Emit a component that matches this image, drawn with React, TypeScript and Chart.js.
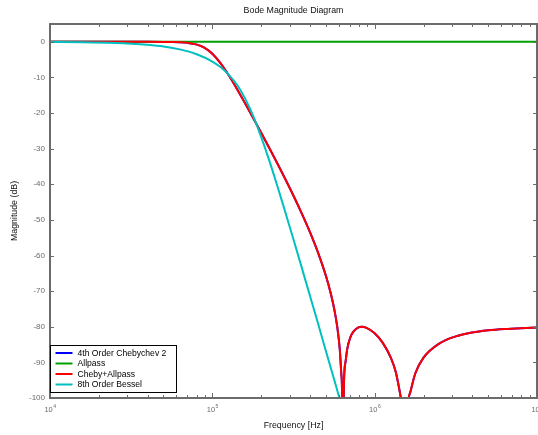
import React, { useEffect, useRef } from "react";
import { Chart, registerables } from "chart.js";

Chart.register(...registerables);

const TITLE = "Bode Magnitude Diagram";
const X_LABEL = "Frequency [Hz]";
const Y_LABEL = "Magnitude (dB)";
const Y_TICKS = [0, -10, -20, -30, -40, -50, -60, -70, -80, -90, -100];
const X_DECADE_EXPONENTS = [4, 5, 6, 7];
const MINOR_MULTIPLIERS = [2, 3, 4, 5, 6, 7, 8, 9];
const SERIES_LABELS = ["4th Order Chebychev 2", "Allpass", "Cheby+Allpass", "8th Order Bessel"];
const SERIES_COLORS = ["#0000ff", "#00a000", "#ff0000", "#00c0c0"];

// Chebyshev type 2 (and Cheby+Allpass, identical magnitude)
const chebFreq = [
  10000, 19953, 31623, 39811, 50119, 56234, 63096, 70795, 79433, 89125,
  100000, 112202, 125893, 141254, 158489, 177828, 199526, 223872, 251189, 281838,
  316228, 354813, 398107, 446684, 501187, 537032, 562341, 588844, 609537, 623735,
  630957, 636400, 645654, 660693, 676083, 707946, 794328, 831764, 891251, 1000000,
  1122018, 1258925, 1348963, 1445440, 1479108, 1537000, 1584893, 1659587, 1778279, 1995262,
  2511886, 3162278, 3981072, 5011872, 6309573, 7943282, 10000000,
];
const chebDb = [
  0, 0, 0, 0, -0.02, -0.05, -0.12, -0.3, -0.72, -1.63,
  -3.34, -5.97, -9.33, -13.11, -17.12, -21.24, -25.44, -29.72, -34.09, -38.57,
  -43.21, -48.09, -53.29, -59.04, -65.76, -70.73, -74.81, -80.19, -86.3, -93.57,
  -101.2, -150, -97.6, -90.0, -86.5, -82.96, -80.16, -80.0, -80.3, -81.83,
  -84.53, -88.76, -92.72, -99.6, -103.8, -150, -106.0, -98.3, -93.13, -88.74,
  -84.65, -82.7, -81.63, -81.0, -80.62, -80.39, -80.24,
];

const allpassFreq = [10000, 10000000];
const allpassDb = [0, 0];

const besselFreq = [
  10000, 15849, 25119, 31623, 39811, 50119, 63096, 79433, 100000, 112202,
  125893, 141254, 158489, 177828, 199526, 223872, 251189, 281838, 316228, 354813,
  398107, 446684, 501187, 562341, 630957,
];
const besselDb = [
  -0.05, -0.13, -0.33, -0.52, -0.83, -1.32, -2.13, -3.42, -5.54, -7.09,
  -9.2, -11.93, -15.75, -20.65, -26.6, -33.2, -40.4, -47.9, -55.5, -63.25,
  -71.1, -78.9, -86.86, -94.76, -102.7,
];

const FONT = "'Liberation Sans', Arial, Helvetica, sans-serif";

function pts(xs: number[], ys: number[]) {
  return xs.map((x, i) => ({ x, y: ys[i] }));
}

const framePlugin = {
  id: "matlabFrame",
  afterDraw(chart: any) {
    const { ctx, chartArea: ca, scales } = chart;
    const xs = scales.x;
    const ys = scales.y;
    const axisColor = "#6b6b6b";
    ctx.save();

    // tick marks
    ctx.strokeStyle = axisColor;
    ctx.lineWidth = 1;
    ctx.beginPath();
    for (let i = 0; i < X_DECADE_EXPONENTS.length; i++) {
      const e = X_DECADE_EXPONENTS[i];
      const major = Math.round(xs.getPixelForValue(Math.pow(10, e))) + 0.5;
      ctx.moveTo(major, ca.top);
      ctx.lineTo(major, ca.top + 5);
      ctx.moveTo(major, ca.bottom);
      ctx.lineTo(major, ca.bottom - 5);
      if (i < X_DECADE_EXPONENTS.length - 1) {
        for (const m of MINOR_MULTIPLIERS) {
          const px = Math.round(xs.getPixelForValue(m * Math.pow(10, e))) + 0.5;
          ctx.moveTo(px, ca.top);
          ctx.lineTo(px, ca.top + 3);
          ctx.moveTo(px, ca.bottom);
          ctx.lineTo(px, ca.bottom - 3);
        }
      }
    }
    for (const v of Y_TICKS) {
      const py = Math.round(ys.getPixelForValue(v)) + 0.5;
      ctx.moveTo(ca.left, py);
      ctx.lineTo(ca.left + 4, py);
      ctx.moveTo(ca.right, py);
      ctx.lineTo(ca.right - 4, py);
    }
    ctx.stroke();

    // box
    ctx.lineWidth = 2;
    ctx.strokeRect(ca.left, ca.top, ca.right - ca.left, ca.bottom - ca.top);

    // y tick labels
    ctx.fillStyle = axisColor;
    ctx.font = `8px ${FONT}`;
    ctx.textAlign = "right";
    ctx.textBaseline = "middle";
    for (const v of Y_TICKS) {
      ctx.fillText(String(v), ca.left - 5, ys.getPixelForValue(v));
    }

    // x tick labels 10^e
    ctx.textAlign = "left";
    ctx.textBaseline = "alphabetic";
    for (const e of X_DECADE_EXPONENTS) {
      const px = xs.getPixelForValue(Math.pow(10, e));
      ctx.font = `7.5px ${FONT}`;
      const w1 = ctx.measureText("10").width;
      ctx.font = `5px ${FONT}`;
      const w2 = ctx.measureText(String(e)).width;
      const start = px - (w1 + w2) / 2;
      ctx.font = `7.5px ${FONT}`;
      ctx.fillText("10", start, ca.bottom + 14);
      ctx.font = `5px ${FONT}`;
      ctx.fillText(String(e), start + w1 + 0.5, ca.bottom + 10);
    }

    // axis titles
    ctx.fillStyle = "#111";
    ctx.font = `8.8px ${FONT}`;
    ctx.textAlign = "center";
    ctx.textBaseline = "middle";
    ctx.fillText(X_LABEL, (ca.left + ca.right) / 2, ca.bottom + 28);
    ctx.fillText(TITLE, (ca.left + ca.right) / 2, ca.top - 13);
    ctx.save();
    ctx.translate(15, (ca.top + ca.bottom) / 2);
    ctx.rotate(-Math.PI / 2);
    ctx.fillText(Y_LABEL, 0, 0);
    ctx.restore();

    // legend
    ctx.font = `8.6px ${FONT}`;
    let maxW = 0;
    for (const l of SERIES_LABELS) maxW = Math.max(maxW, ctx.measureText(l).width);
    const rowH = 10.5;
    const boxW = Math.round(27 + maxW + 10);
    const boxH = Math.round(rowH * SERIES_LABELS.length + 5);
    const bx = ca.left + 0.5;
    const by = Math.round(ca.bottom - 6 - boxH) + 0.5;
    ctx.fillStyle = "#fff";
    ctx.fillRect(bx, by, boxW, boxH);
    ctx.strokeStyle = "#000";
    ctx.lineWidth = 1;
    ctx.strokeRect(bx, by, boxW, boxH);
    ctx.textAlign = "left";
    ctx.textBaseline = "middle";
    SERIES_LABELS.forEach((l, i) => {
      const cy = by + 7.5 + i * rowH;
      ctx.strokeStyle = SERIES_COLORS[i];
      ctx.lineWidth = 2;
      ctx.beginPath();
      ctx.moveTo(bx + 5, cy);
      ctx.lineTo(bx + 22, cy);
      ctx.stroke();
      ctx.fillStyle = "#000";
      ctx.fillText(l, bx + 27, cy + 0.5);
    });

    ctx.restore();
  },
};

export default function App() {
  const ref = useRef<HTMLCanvasElement | null>(null);
  useEffect(() => {
    if (!ref.current) return;
    const common = {
      borderWidth: 2,
      pointRadius: 0,
      fill: false,
      cubicInterpolationMode: "monotone" as const,
    };
    const chart = new Chart(ref.current, {
      type: "line",
      data: {
        datasets: [
          { ...common, label: SERIES_LABELS[0], data: pts(chebFreq, chebDb), borderColor: SERIES_COLORS[0], order: 3 },
          { ...common, label: SERIES_LABELS[1], data: pts(allpassFreq, allpassDb), borderColor: SERIES_COLORS[1], order: 2 },
          { ...common, label: SERIES_LABELS[2], data: pts(chebFreq, chebDb), borderColor: SERIES_COLORS[2], order: 1 },
          { ...common, label: SERIES_LABELS[3], data: pts(besselFreq, besselDb), borderColor: SERIES_COLORS[3], order: 0 },
        ],
      },
      options: {
        responsive: false,
        animation: false,
        layout: { padding: { left: 50, right: 1, top: 24, bottom: 37 } },
        plugins: { legend: { display: false }, tooltip: { enabled: false }, title: { display: false } },
        scales: {
          x: { type: "logarithmic", min: 10000, max: 10000000, display: false },
          y: { type: "linear", min: -100, max: 5, display: false },
        },
      },
      plugins: [framePlugin],
    });
    return () => chart.destroy();
  }, []);
  return (
    <div style={{ position: "fixed", left: 0, top: 0, width: 538, height: 435, background: "#fff" }}>
      <canvas ref={ref} width={538} height={435} style={{ display: "block" }} />
    </div>
  );
}
